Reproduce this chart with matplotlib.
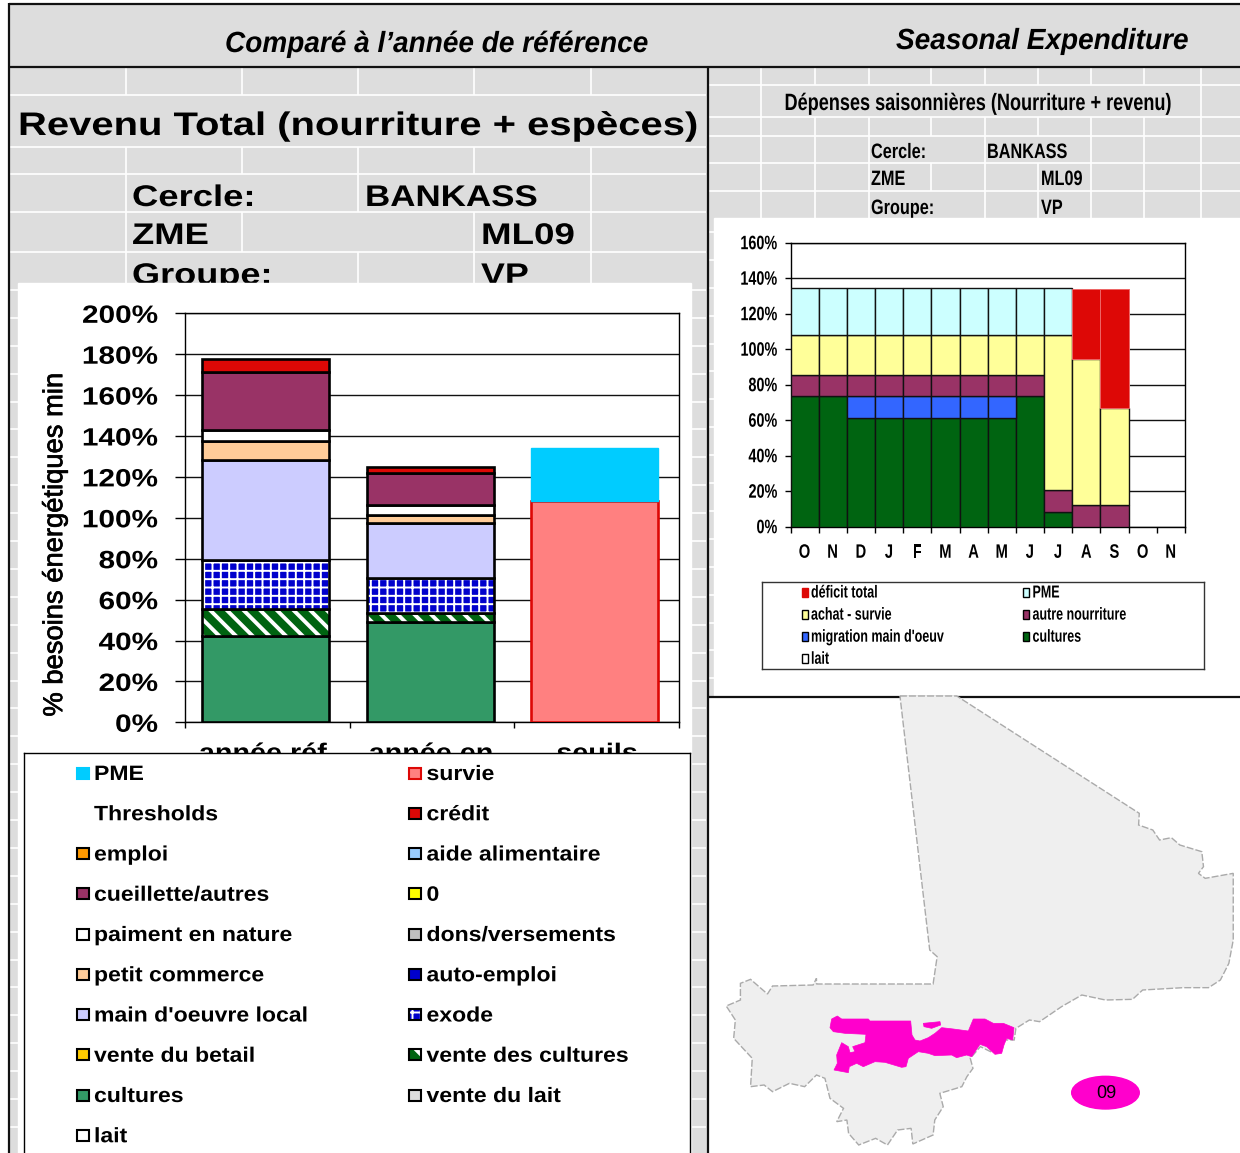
#!/bin/env python

import numpy as np
import matplotlib
matplotlib.use('Agg')
import matplotlib.pyplot as plt
import matplotlib.patheffects as pe
from matplotlib.patches import Rectangle, Polygon, Ellipse

W, H = 1240, 1153
GRAY = '#DDDDDD'
ARIAL = ['Liberation Sans']

# left chart data
bar_names = ['année réf', 'année en', 'seuils']
cultures_left = [42.4, 49.2, 0]
vente_cultures = [13.0, 4.3, 0]
exode = [23.8, 17.2, 0]
main_oeuvre = [48.9, 26.6, 0]
petit_commerce = [9.5, 3.9, 0]
paiment_nature = [5.5, 4.9, 0]
cueillette = [28.2, 15.7, 0]
credit = [6.4, 3.2, 0]
survie = [0, 0, 108]
pme_left = [0, 0, 26]
left_ticks = [0, 20, 40, 60, 80, 100, 120, 140, 160, 180, 200]

# right chart data
months = ['O', 'N', 'D', 'J', 'F', 'M', 'A', 'M', 'J', 'J', 'A', 'S', 'O', 'N']
cultures_right = [73.6, 73.6, 61, 61, 61, 61, 61, 61, 73.6, 8.5, 0, 0, 0, 0]
migration = [0, 0, 12.6, 12.6, 12.6, 12.6, 12.6, 12.6, 0, 0, 0, 0, 0, 0]
autre_nourriture = [11.7, 11.7, 11.7, 11.7, 11.7, 11.7, 11.7, 11.7, 11.7, 12.3, 12.2, 12.2, 0, 0]
achat_survie = [22.9, 22.9, 22.9, 22.9, 22.9, 22.9, 22.9, 22.9, 22.9, 87.4, 82.5, 54.8, 0, 0]
pme_right = [26.1, 26.1, 26.1, 26.1, 26.1, 26.1, 26.1, 26.1, 26.1, 26.1, 0, 0, 0, 0]
deficit = [0, 0, 0, 0, 0, 0, 0, 0, 0, 0, 39.3, 67, 0, 0]
right_ticks = [0, 20, 40, 60, 80, 100, 120, 140, 160]

# legends
left_legend_col1 = [('PME', '#00CCFF', '#00CCFF', None), ('Thresholds', None, None, None),
                    ('emploi', '#FF9900', 'black', None), ('cueillette/autres', '#993366', 'black', None),
                    ('paiment en nature', 'white', 'black', None), ('petit commerce', '#FFCC99', 'black', None),
                    ("main d'oeuvre local", '#CCCCFF', 'black', None), ('vente du betail', '#FFCC00', 'black', None),
                    ('cultures', '#339966', 'black', None), ('lait', 'white', 'black', None)]
left_legend_col2 = [('survie', '#FF8080', '#DD0806', None), ('crédit', '#DD0806', 'black', None),
                    ('aide alimentaire', '#99CCFF', 'black', None), ('0', '#FFFF00', 'black', None),
                    ('dons/versements', '#C0C0C0', 'black', None), ('auto-emploi', '#0000CC', 'black', None),
                    ('exode', '#0000CC', 'black', '++'), ('vente des cultures', '#006411', 'black', '\\'),
                    ('vente du lait', '#DDDDDD', 'black', None)]
right_legend_col1 = [('déficit total', '#DD0806', '#DD0806'), ('achat - survie', '#FFFF99', 'black'),
                     ("migration main d'oeuv", '#3366FF', 'black'), ('lait', 'white', 'black')]
right_legend_col2 = [('PME', '#CCFFFF', 'black'), ('autre nourriture', '#993366', 'black'),
                     ('cultures', '#006411', 'black')]

# map outline, in the map's own coordinates
mali_x = [562, 730, 1270, 1268, 1310, 1330, 1365, 1390, 1455, 1460, 1445, 1465, 1548, 1548, 1535, 1510, 1475, 1400,
          1280, 1250, 1170, 1100, 1040, 975, 945, 905, 900, 865, 860, 830, 800, 770, 778, 760, 745, 680, 690, 665,
          660, 600, 595, 555, 525, 490, 440, 410, 405, 375, 395, 355, 340, 315, 280, 235, 185, 160, 120, 125, 70,
          75, 48, 90, 90, 120, 170, 185, 305, 315, 315, 660, 672, 650]
mali_y = [18, 18, 370, 405, 420, 450, 443, 465, 485, 530, 550, 565, 550, 750, 820, 870, 893, 893,
          900, 928, 930, 915, 950, 995, 990, 1015, 1050, 1050, 1085, 1085, 1070, 1105, 1135, 1160, 1190, 1210, 1250, 1290,
          1335, 1362, 1315, 1320, 1365, 1345, 1365, 1330, 1290, 1295, 1255, 1225, 1165, 1155, 1190, 1180, 1205, 1185, 1190, 1105, 1045,
          990, 948, 930, 880, 868, 912, 888, 885, 865, 882, 882, 800, 780]
# highlighted zone, in the zone's own coordinates
zone_x = [35, 52, 65, 145, 150, 272, 276, 285, 300, 325, 345, 365, 400, 445, 460, 495, 520, 550, 582, 578, 560, 552,
          545, 525, 500, 480, 455, 440, 410, 395, 345, 325, 295, 265, 258, 245, 195, 165, 130, 110, 88, 85, 42, 52,
          50, 65, 85, 90, 105, 98, 135, 138, 75, 40, 30]
zone_y = [42, 33, 42, 42, 48, 48, 90, 105, 108, 98, 85, 68, 72, 78, 42, 42, 55, 55, 68, 105, 100, 120,
          145, 148, 125, 118, 155, 150, 158, 150, 152, 145, 140, 160, 185, 187, 172, 170, 185, 175, 185, 203, 195, 175,
          150, 113, 125, 143, 140, 125, 113, 88, 85, 80, 68]
spot_x = [310, 360, 362, 335, 312]
spot_y = [55, 50, 60, 70, 65]


class Stretch(pe.AbstractPathEffect):
    # squeeze or widen text along its baseline, the sheet's text is not at its natural width
    def __init__(self, sx, anchor='left'):
        super().__init__()
        self.sx = sx
        self.anchor = anchor

    def draw_path(self, renderer, gc, tpath, affine, rgbFace=None):
        m = affine.get_matrix().copy()
        width = tpath.get_extents().x1 * m[0, 0]
        if self.anchor == 'center':
            m[0, 2] += (1 - self.sx) * width / 2
        elif self.anchor == 'right':
            m[0, 2] += (1 - self.sx) * width
        m[0, 0] *= self.sx
        renderer.draw_path(gc, tpath, matplotlib.transforms.Affine2D(m), rgbFace)


def px_axes(x0, y0, x1, y1, **kw):
    return fig.add_axes([x0 / W, 1 - y1 / H, (x1 - x0) / W, (y1 - y0) / H], **kw)


def vlines(ax, xs, y0, y1):
    for x in xs:
        ax.plot([x, x], [y0, y1], color='white', lw=1.2, zorder=2, solid_capstyle='butt')


def hlines(ax, ys, x0, x1):
    for y in ys:
        ax.plot([x0, x1], [y, y], color='white', lw=1.2, zorder=2, solid_capstyle='butt')


def label(ax, x, y, s, size, sx, **kw):
    ha = kw.pop('ha', 'left')
    return ax.text(x, y, s, family=ARIAL, fontsize=size, weight=kw.pop('weight', 'bold'), ha=ha,
                   path_effects=[Stretch(sx, ha)], **kw)


fig = plt.figure(figsize=(W / 100, H / 100), dpi=100, facecolor='white')

## background sheet in pixel coordinates
bg = px_axes(0, 0, W, H)
bg.set_xlim(0, W)
bg.set_ylim(H, 0)
bg.axis('off')

bg.add_patch(Rectangle((9, 4), W - 9, H, color=GRAY, zorder=1))

# left sheet cells
hlines(bg, [95, 147, 174, 212, 252], 10, 706)
hlines(bg, np.arange(290, H, 27.9), 10, 706)
left_cols = [126, 242, 358, 474, 591]
vlines(bg, left_cols, 67, 95)
vlines(bg, left_cols, 147, 174)
vlines(bg, [126, 358, 591], 174, 212)
vlines(bg, [126, 242, 474, 591], 212, 252)
vlines(bg, [126, 358, 474, 591], 252, 290)

# right sheet cells
hlines(bg, [85, 117, 136, 163, 191], 709, W)
hlines(bg, np.arange(232, 690, 27.9), 709, 714)
vlines(bg, [761, 815, 869, 931, 985, 1038, 1091, 1144, 1201], 67, 85)
vlines(bg, [761, 1201], 85, 117)
vlines(bg, [761, 815, 869, 931, 985, 1038, 1091, 1144, 1201], 117, 136)
vlines(bg, [761, 815, 869, 985, 1091, 1144, 1201], 136, 163)
vlines(bg, [761, 815, 869, 931, 985, 1038, 1091, 1144, 1201], 163, 191)
vlines(bg, [761, 815, 869, 985, 1038, 1091, 1144, 1201], 191, 218)

# texts that sit on the sheet
label(bg, 225, 52, 'Comparé à l’année de référence', 21, 0.96, style='italic', zorder=3)
label(bg, 896, 49, 'Seasonal Expenditure', 21, 0.96, style='italic', zorder=3)
label(bg, 18, 135, 'Revenu Total (nourriture + espèces)', 23.5, 1.225, zorder=3)
for x, y, s, sx in [(132, 206, 'Cercle:', 1.22), (365, 206, 'BANKASS', 1.17), (132, 244, 'ZME', 1.22), (481, 244, 'ML09', 1.23),
                    (132, 284, 'Groupe:', 1.21), (481, 284, 'VP', 1.2)]:
    label(bg, x, y, s, 21.5, sx, zorder=3)
label(bg, 978.5, 110, 'Dépenses saisonnières (Nourriture + revenu)', 17, 0.767, ha='center', zorder=3)
for x, y, s in [(871, 158, 'Cercle:'), (987, 158, 'BANKASS'), (871, 185, 'ZME'), (1041, 185, 'ML09'),
                (871, 214, 'Groupe:'), (1041, 214, 'VP')]:
    label(bg, x, y, s, 15, 0.78, zorder=3)

# white areas laid over the sheet
bg.add_patch(Rectangle((18, 283), 673, H, color='white', zorder=4))
bg.add_patch(Rectangle((714, 218), W - 714, 480, color='white', zorder=4))
bg.add_patch(Rectangle((708, 697), W - 708, H, color='white', zorder=4))

# black frame
for xs, ys in [([8.5, W], [3.5, 3.5]), ([9, 9], [3, H]), ([9, W], [66.5, 66.5]),
               ([707.5, 707.5], [67, H]), ([708, W], [697, 697])]:
    bg.plot(xs, ys, color='#111111', lw=1.6, zorder=5, solid_capstyle='butt')

## left chart
ax = px_axes(185, 313.3, 678.7, 722.3, facecolor='none')
pos = np.arange(len(bar_names)) + 0.49
left_series = [(cultures_left, '#339966', None), (vente_cultures, '#006411', '\\\\'), (exode, '#0000CC', '++'),
               (main_oeuvre, '#CCCCFF', None), (petit_commerce, '#FFCC99', None), (paiment_nature, 'white', None),
               (cueillette, '#993366', None), (credit, '#DD0806', None)]
bottom = np.zeros(3)
for vals, col, hat in left_series:
    vals = np.array(vals, dtype=float)
    if hat:
        bars = ax.bar(pos[:2], vals[:2], 0.77, bottom=bottom[:2], color=col, edgecolor='white', hatch=hat, lw=0, zorder=3)
        for b in bars:
            b.set_hatch_linewidth(2.8 if hat != '++' else 1.4)
    ax.bar(pos[:2], vals[:2], 0.77, bottom=bottom[:2], color=col if not hat else 'none', edgecolor='black', lw=1.9, zorder=3)
    bottom += vals
ax.bar(pos[2], survie[2], 0.77, color='#FF8080', edgecolor='#DD0806', lw=1.9, zorder=3)
ax.bar(pos[2], pme_left[2], 0.77, bottom=survie[2], color='#00CCFF', edgecolor='#00CCFF', lw=1, zorder=3)

ax.set_xlim(0, 3)
ax.set_ylim(0, 200)
ax.set_yticks(left_ticks)
ax.set_yticklabels(['%d%%' % t for t in left_ticks], family=ARIAL, fontsize=18, weight='bold',
                   va='center_baseline', path_effects=[Stretch(1.19, 'right')])
ax.yaxis.grid(True, color='#111111', lw=1)
ax.set_axisbelow(True)
ax.set_xticks([0, 1, 2, 3])
ax.set_xticklabels([])
ax.set_xticks([0.474, 1.495, 2.503], minor=True)
ax.set_xticklabels(bar_names, minor=True, family=ARIAL, fontsize=18, weight='bold',
                   path_effects=[Stretch(1.15, 'center')])
ax.tick_params(axis='x', which='minor', length=0, pad=14)
ax.tick_params(axis='x', which='major', length=4.5, width=1)
ax.tick_params(axis='y', length=7, width=1, pad=12.5)
ax.set_ylabel('% besoins énergétiques min', family=ARIAL, fontsize=19.7, va='center',
              path_effects=[pe.withStroke(linewidth=0.5, foreground='black')])
ax.yaxis.set_label_coords(-0.263, 0.4345)
for s in ax.spines.values():
    s.set_linewidth(1)

## left legend
lg = px_axes(24.5, 753, 690, H + 5, facecolor='white', zorder=6)
lg.set_xlim(24.5, 690)
lg.set_ylim(H + 5, 753)
lg.set_xticks([])
lg.set_yticks([])
for s in lg.spines.values():
    s.set_linewidth(1)
for sw_x, entries in [(76, left_legend_col1), (408.5, left_legend_col2)]:
    for i, (name, col, edge, hat) in enumerate(entries):
        y = 773 + i * 40.25
        if col:
            if hat:
                sw = Rectangle((sw_x + 0.5, y - 5.5), 12, 11, facecolor=col, edgecolor='white', lw=0, hatch=hat)
                sw.set_hatch_linewidth(3 if hat == '\\' else 1.4)
                lg.add_patch(sw)
            lg.add_patch(Rectangle((sw_x + 0.5, y - 5.5), 12, 11, facecolor=col if not hat else 'none', edgecolor=edge, lw=1.5))
        label(lg, sw_x + 18, y + 7, name, 15, 1.105)

## right chart
ar = px_axes(790.5, 242.7, 1185, 526.7, facecolor='none', zorder=3)
x = np.arange(len(months)) + 0.5
bottom = np.zeros(len(months))
for vals, col in [(cultures_right, '#006411'), (migration, '#3366FF'), (autre_nourriture, '#993366'),
                  (achat_survie, '#FFFF99'), (pme_right, '#CCFFFF')]:
    vals = np.array(vals, dtype=float)
    keep = vals > 0
    ar.bar(x[keep], vals[keep], 1.0, bottom=bottom[keep], color=col, edgecolor='#111111', lw=1, zorder=3)
    bottom += vals
vals = np.array(deficit, dtype=float)
keep = vals > 0
ar.bar(x[keep], vals[keep], 1.0, bottom=bottom[keep], color='#DD0806', edgecolor='#EE6666', lw=0.7, zorder=3)

ar.set_xlim(0, len(months))
ar.set_ylim(0, 160)
ar.set_yticks(right_ticks)
ar.set_yticklabels(['%d%%' % t for t in right_ticks], family=ARIAL, fontsize=14, weight='bold',
                   path_effects=[Stretch(0.74, 'right')])
ar.yaxis.grid(True, color='#111111', lw=1)
ar.set_axisbelow(True)
ar.set_xticks(range(len(months) + 1))
ar.set_xticklabels([])
ar.set_xticks(x, minor=True)
ar.set_xticklabels(months, minor=True, family=ARIAL, fontsize=14, weight='bold',
                   path_effects=[Stretch(0.76, 'center')])
ar.tick_params(axis='x', which='minor', length=0, pad=13)
ar.tick_params(axis='x', which='major', length=4, width=1)
ar.tick_params(axis='y', length=4, width=1, pad=5.4)
for s in ar.spines.values():
    s.set_linewidth(1)

## right legend
lr = px_axes(761.5, 582, 1204, 669, facecolor='white', zorder=6)
lr.set_xlim(761.5, 1204)
lr.set_ylim(669, 582)
lr.set_xticks([])
lr.set_yticks([])
for s in lr.spines.values():
    s.set_linewidth(1)
    s.set_color('#333333')
for sw_x, entries in [(801.5, right_legend_col1), (1023, right_legend_col2)]:
    for i, (name, col, edge) in enumerate(entries):
        y = 592 + i * 22.1
        lr.add_patch(Rectangle((sw_x, y - 4.5), 6, 9, facecolor=col, edgecolor=edge, lw=1))
        label(lr, sw_x + 9.5, y + 5.5, name, 12.5, 0.72)

## map
mp = px_axes(710, 690, 1240, 1153, facecolor='none', zorder=2)
mp.set_xlim(0, 1568)
mp.set_ylim(1389, 0)
mp.axis('off')
mp.add_patch(Polygon(np.column_stack([mali_x, mali_y]), closed=True, facecolor='#EFEFEF', edgecolor='#AAAAAA', lw=1, ls=(0, (5, 1.5))))
mp.add_patch(Ellipse((1170, 1208), 200, 98, color='#FF00CC'))
mp.text(1172, 1210, '09', family=ARIAL, fontsize=13, ha='center', va='center')

zn = px_axes(820, 1005, 1030, 1085, facecolor='none', zorder=2.5)
zn.set_xlim(0, 630)
zn.set_ylim(240, 0)
zn.axis('off')
zn.add_patch(Polygon(np.column_stack([zone_x, zone_y]), closed=True, facecolor='#FF00CC', edgecolor='#FF00CC', lw=0.5))
zn.add_patch(Polygon(np.column_stack([spot_x, spot_y]), closed=True, facecolor='#FF00CC', edgecolor='#FF00CC', lw=0.5))

fig.savefig('out.png', dpi=100)
